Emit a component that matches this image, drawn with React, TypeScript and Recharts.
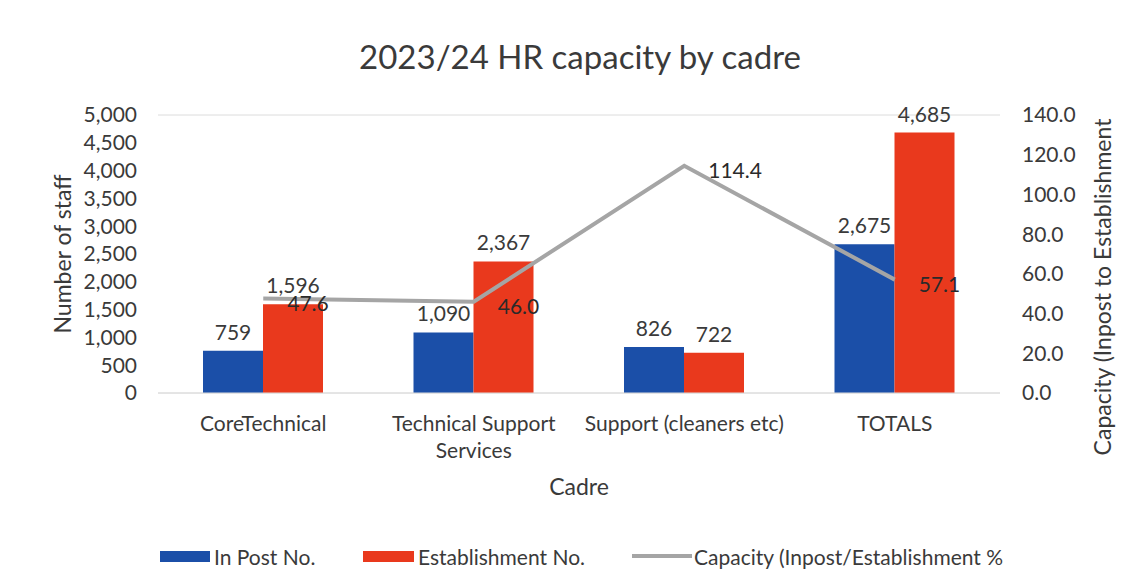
import React from "react"
import {
  ComposedChart,
  Bar,
  Line,
  XAxis,
  YAxis,
  CartesianGrid,
  LabelList,
} from "recharts"

const categories = ["CoreTechnical", "Technical Support Services", "Support (cleaners etc)", "TOTALS"]
const inPost = [759, 1090, 826, 2675]
const establishment = [1596, 2367, 722, 4685]
const capacity = [47.6, 46.0, 114.4, 57.1]
const leftTicks = [0, 500, 1000, 1500, 2000, 2500, 3000, 3500, 4000, 4500, 5000]
const rightTicks = [0, 20, 40, 60, 80, 100, 120, 140]

const data = categories.map((c, i) => ({
  cadre: c,
  inPost: inPost[i],
  establishment: establishment[i],
  capacity: capacity[i],
}))

const FONT = "Lato, 'Open Sans', sans-serif"
const TEXT = "#3a3a3a"
const BLUE = "#1b4fa8"
const RED = "#e9391d"
const GREY = "#a5a5a5"

const fmtInt = (v: any) => Number(v).toLocaleString("en-US")
const fmt1 = (v: any) => Number(v).toFixed(1)

// split long category names over two lines like Excel does
const wrap = (s: string, max = 22) => {
  if (s.length <= max) return [s]
  const words = s.split(" ")
  const lines: string[] = []
  let cur = ""
  words.forEach((w) => {
    if ((cur + " " + w).trim().length > 17 && cur) {
      lines.push(cur)
      cur = w
    } else {
      cur = (cur + " " + w).trim()
    }
  })
  if (cur) lines.push(cur)
  return lines
}

const CategoryTick = ({ x, y, payload }: any) => {
  const lines = wrap(payload.value)
  return (
    <text x={x} y={y} textAnchor="middle" fill={TEXT} fontSize={21} fontFamily={FONT}>
      {lines.map((l, i) => (
        <tspan key={i} x={x} dy={i === 0 ? 30 : 27}>
          {l}
        </tspan>
      ))}
    </text>
  )
}

const legendText = { position: "absolute" as const, top: 544, fontFamily: FONT, fontSize: 21, color: TEXT, whiteSpace: "nowrap" as const }

export default function App() {
  return (
    <div style={{ position: "absolute", left: 0, top: 0, width: 1142, height: 587, background: "#fff" }}>
      <div
        style={{
          position: "absolute",
          left: 0,
          right: 0,
          top: 36,
          textAlign: "center",
          fontFamily: FONT,
          fontSize: 33,
          color: TEXT,
          paddingLeft: 18,
        }}
      >
        2023/24 HR capacity by cadre
      </div>
      <ComposedChart
        width={1142}
        height={587}
        data={data}
        margin={{ top: 115, right: 62, bottom: 94, left: 78 }}
        barGap={0}
        barCategoryGap={45}
        style={{ fontFamily: FONT, position: "absolute", left: 0, top: 0 }}
      >
        <CartesianGrid vertical={false} stroke="#dcdcdc" />
        <XAxis
          dataKey="cadre"
          axisLine={{ stroke: "#dcdcdc" }}
          tickLine={false}
          tick={<CategoryTick />}
          interval={0}
          height={100}
          label={{ value: "Cadre", position: "center", dy: 44, fill: TEXT, fontSize: 23, fontFamily: FONT }}
        />
        <YAxis
          yAxisId="left"
          domain={[0, 5000]}
          ticks={leftTicks}
          interval={0}
          tickFormatter={fmtInt}
          axisLine={false}
          tickLine={false}
          tickSize={0}
          tickMargin={21}
          width={80}
          tick={{ fill: TEXT, fontSize: 21, fontFamily: FONT }}
          label={{ value: "Number of staff", angle: -90, position: "center", dx: -55, fill: TEXT, fontSize: 23, fontFamily: FONT }}
        />
        <YAxis
          yAxisId="right"
          orientation="right"
          domain={[0, 140]}
          ticks={rightTicks}
          interval={0}
          tickFormatter={fmt1}
          axisLine={false}
          tickLine={false}
          tickSize={0}
          tickMargin={22}
          width={80}
          tick={{ fill: TEXT, fontSize: 21, fontFamily: FONT }}
          label={{
            value: "Capacity (Inpost to Establishment",
            angle: -90,
            position: "center",
            dx: 63,
            dy: 33,
            fill: TEXT,
            fontSize: 23,
            fontFamily: FONT,
          }}
        />
        <Bar yAxisId="left" dataKey="inPost" name="In Post No." fill={BLUE} isAnimationActive={false}>
          <LabelList dataKey="inPost" position="top" offset={11} formatter={fmtInt} fill={TEXT} fontSize={21} fontFamily={FONT} />
        </Bar>
        <Bar yAxisId="left" dataKey="establishment" name="Establishment No." fill={RED} isAnimationActive={false}>
          <LabelList dataKey="establishment" position="top" offset={11} formatter={fmtInt} fill={TEXT} fontSize={21} fontFamily={FONT} />
        </Bar>
        <Line
          yAxisId="right"
          dataKey="capacity"
          name="Capacity (Inpost/Establishment %"
          stroke={GREY}
          strokeWidth={4}
          dot={false}
          activeDot={false}
          isAnimationActive={false}
        >
          <LabelList dataKey="capacity" position="right" offset={24} dy={5} formatter={fmt1} fill="#2a2a2a" fontSize={21} fontFamily={FONT} />
        </Line>
      </ComposedChart>
      {/* legend drawn by hand so it doesn't eat into the plot height */}
      <div style={{ position: "absolute", left: 160, top: 551, width: 50, height: 11, background: BLUE }} />
      <div style={{ ...legendText, left: 214 }}>In Post No.</div>
      <div style={{ position: "absolute", left: 363, top: 551, width: 51, height: 11, background: RED }} />
      <div style={{ ...legendText, left: 418 }}>Establishment No.</div>
      <div style={{ position: "absolute", left: 632, top: 554, width: 60, height: 4, background: GREY }} />
      <div style={{ ...legendText, left: 694 }}>Capacity (Inpost/Establishment %</div>
    </div>
  )
}
